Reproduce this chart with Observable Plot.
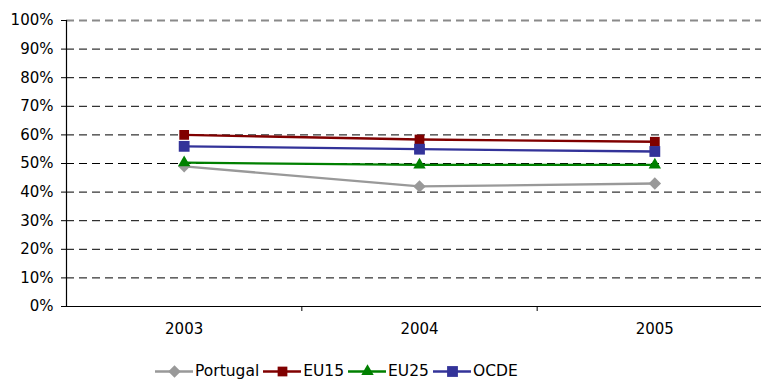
<!DOCTYPE html>
<html>
<head>
<meta charset="utf-8">
<script src="https://cdn.jsdelivr.net/npm/d3@7"></script>
<script src="https://cdn.jsdelivr.net/npm/@observablehq/plot@0.6"></script>
<style>
  html, body { margin: 0; padding: 0; background: #fff; overflow: hidden; }
  body { font-family: "DejaVu Sans", Verdana, sans-serif; width: 761px; height: 380px; }
  #legend { display: flex; justify-content: flex-start; align-items: center; height: 35px; padding-top: 17px; padding-left: 155px; box-sizing: border-box; font-size: 15.5px; color: #000; }
  .item { display: flex; align-items: center; margin-right: 4px; }
  .item svg { display: block; margin-right: 2px; }
</style>
</head>
<body>
<div id="chart"></div>
<div id="legend"></div>
<script>
// Years on the category axis
const years = [2003, 2004, 2005];
// Share per year, in percent
const portugal = [49, 42, 43];
const eu15 = [60, 58.4, 57.6];
const eu25 = [50.3, 49.5, 49.5];
const ocde = [56, 55, 54.2];
// Value axis tick labels
const yTicks = [0, 10, 20, 30, 40, 50, 60, 70, 80, 90, 100];

const series = [
  {name: "Portugal", values: portugal, color: "#999999", symbol: "diamond2", r: 5.6},
  {name: "EU15", values: eu15, color: "#800000", symbol: "square", r: 5.5},
  {name: "EU25", values: eu25, color: "#008000", symbol: "triangle", r: 4.6},
  {name: "OCDE", values: ocde, color: "#333399", symbol: "square", r: 6.1}
];

const rows = series.flatMap(s => s.values.map((v, i) => ({series: s.name, year: years[i], value: v})));

// Category separators sit halfway between consecutive years
const separators = d3.pairs(years).map(([a, b]) => (a + b) / 2);
const xDomain = [years[0] - 0.5, years[years.length - 1] + 0.5];
const yMax = yTicks[yTicks.length - 1];

const marks = [
  Plot.gridY(yTicks.filter(d => d > 0 && d < yMax), {stroke: "#000", strokeOpacity: 1, strokeDasharray: "8,5"}),
  Plot.gridY([yMax], {stroke: "#8a8a8a", strokeOpacity: 1, strokeWidth: 2, strokeDasharray: "8,5"}),
  Plot.axisY(yTicks, {tickFormat: d => d + "%", tickSize: 5, tickPadding: 8, fontSize: 15, label: null}),
  Plot.axisX(separators, {tickSize: 5, tickFormat: () => "", label: null}),
  Plot.axisX(years, {tickSize: 0, tickPadding: 17, tickFormat: d => String(d), fontSize: 15, label: null}),
  Plot.ruleY([0], {stroke: "#000", strokeWidth: 1.2}),
  Plot.ruleX([xDomain[0]], {stroke: "#000", strokeWidth: 1.2})
];

for (const s of series) {
  const data = rows.filter(d => d.series === s.name);
  marks.push(Plot.line(data, {x: "year", y: "value", stroke: s.color, strokeWidth: 2.3}));
  marks.push(Plot.dot(data, {x: "year", y: "value", fill: s.color, symbol: s.symbol, r: s.r, stroke: "none"}));
}

const chart = Plot.plot({
  width: 761,
  height: 345,
  marginTop: 20,
  marginBottom: 39,
  marginLeft: 66,
  marginRight: -11,
  style: {fontFamily: "DejaVu Sans, Verdana, sans-serif", color: "#000", background: "#fff", overflow: "hidden"},
  x: {type: "linear", domain: xDomain},
  y: {domain: [0, 100]},
  marks
});
document.getElementById("chart").append(chart);

// Legend: a short line with the series marker, then the name
const legend = d3.select("#legend");
for (const s of series) {
  const item = legend.append("div").attr("class", "item");
  const sw = Plot.plot({
    width: 38, height: 14, margin: 0,
    x: {domain: [0, 1], axis: null},
    y: {domain: [0, 1], axis: null},
    style: {background: "transparent", overflow: "visible"},
    marks: [
      Plot.ruleY([0.5], {stroke: s.color, strokeWidth: 2.3}),
      Plot.dot([0.5], {x: d => d, y: 0.5, fill: s.color, symbol: s.symbol, r: s.r, stroke: "none"})
    ]
  });
  item.node().append(sw);
  item.append("span").text(s.name);
}
</script>
</body>
</html>
